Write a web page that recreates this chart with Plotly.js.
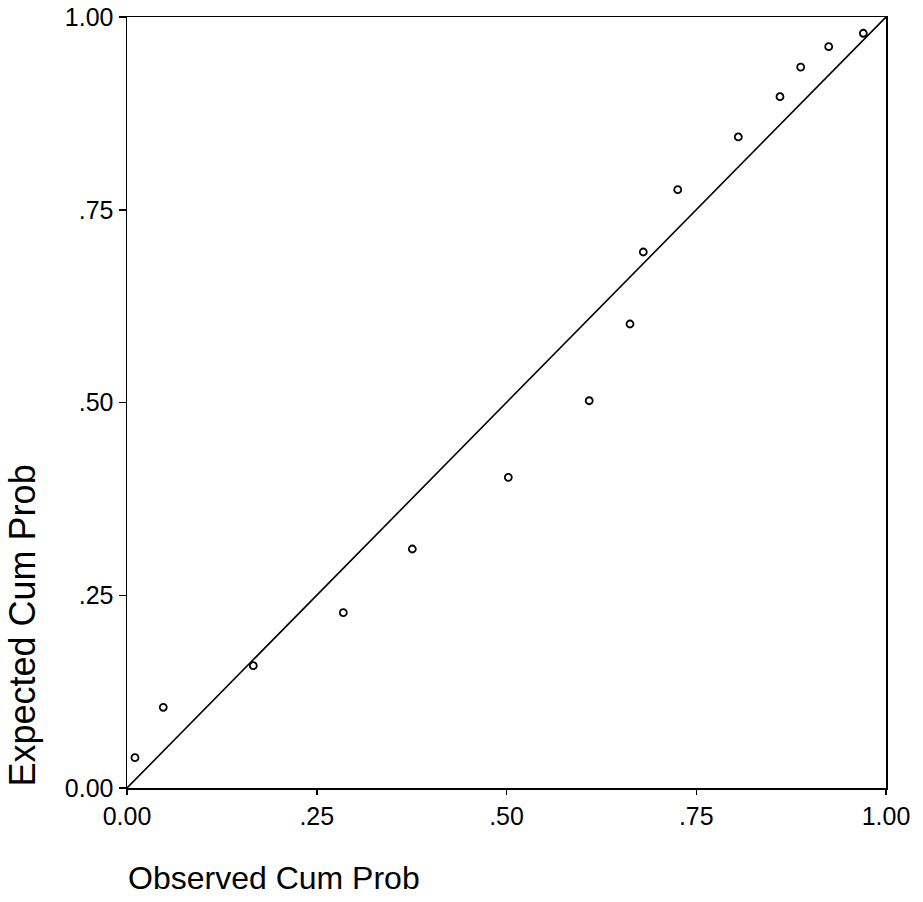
<!DOCTYPE html>
<html>
<head>
<meta charset="utf-8">
<script src="https://cdn.plot.ly/plotly-3.0.1.min.js"></script>
<style>html,body{margin:0;padding:0;background:#fff;}#chart{width:923px;height:902px;}</style>
</head>
<body>
<div id="chart"></div>
<script>
var observed = [0.0105, 0.0478, 0.1664, 0.285, 0.3759, 0.5024, 0.609, 0.6627, 0.6802, 0.7256, 0.8054, 0.8603, 0.8876, 0.9245, 0.9701];
var expected = [0.0393, 0.1047, 0.1586, 0.2274, 0.310, 0.403, 0.5023, 0.6018, 0.6952, 0.776, 0.8444, 0.8966, 0.9351, 0.9615, 0.9789];
var refLine = [0, 1];
var tickVals = [0, 0.25, 0.5, 0.75, 1];
var tickText = ['0.00', '.25', '.50', '.75', '1.00'];
var xTitle = 'Observed Cum Prob';
var yTitle = 'Expected Cum Prob';

var font = 'Liberation Sans, Arial, sans-serif';

var traces = [
  {x: refLine, y: refLine, mode: 'lines', line: {color: '#000', width: 1.6}, hoverinfo: 'skip', showlegend: false},
  {x: observed, y: expected, mode: 'markers', marker: {symbol: 'circle-open', size: 7, color: '#000', line: {width: 1.8, color: '#000'}}, showlegend: false}
];

function axis(len) {
  return {
    range: [0, 1],
    tickvals: tickVals,
    ticktext: tickText,
    ticks: 'outside',
    ticklen: len,
    tickwidth: 1.5,
    tickcolor: '#000',
    showline: true,
    linecolor: '#000',
    linewidth: 1.5,
    mirror: true,
    showgrid: false,
    zeroline: false,
    tickfont: {family: font, size: 25, color: '#000'},
    fixedrange: true
  };
}

var layout = {
  width: 923,
  height: 902,
  margin: {l: 127, r: 37, t: 17, b: 114},
  paper_bgcolor: '#fff',
  plot_bgcolor: '#fff',
  showlegend: false,
  xaxis: axis(5),
  yaxis: axis(7),
  annotations: [
    {text: xTitle, xref: 'paper', yref: 'paper', x: 0, y: 0, xanchor: 'left', yanchor: 'middle', yshift: -90, showarrow: false, borderpad: 0, font: {family: font, size: 32, color: '#000'}},
    {text: yTitle, xref: 'paper', yref: 'paper', x: 0, y: 0, xanchor: 'right', yanchor: 'bottom', xshift: -84, textangle: -90, showarrow: false, borderpad: 0, font: {family: font, size: 36, color: '#000'}}
  ]
};

Plotly.newPlot('chart', traces, layout, {displayModeBar: false, staticPlot: true});
</script>
</body>
</html>
